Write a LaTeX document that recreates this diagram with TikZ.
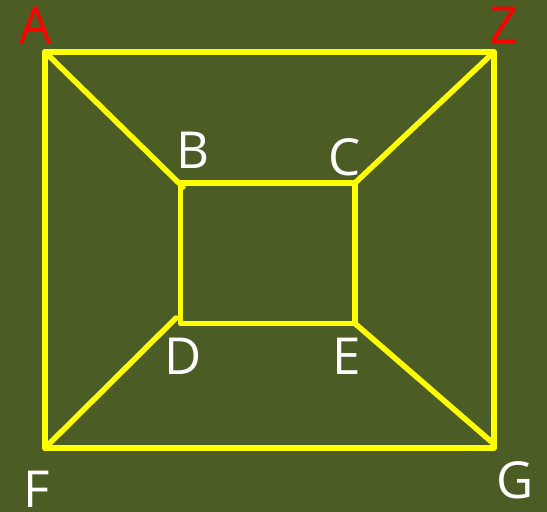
\documentclass[tikz,border=0pt]{standalone}
\usepackage{fontspec}
\setmainfont{Open Sans}
\definecolor{bg}{RGB}{75,93,37}
\definecolor{ylw}{RGB}{255,255,0}
\definecolor{lblred}{RGB}{255,0,0}
\begin{document}
\begin{tikzpicture}[x=1pt,y=-1pt,
  edge/.style={draw=ylw,line width=5.5pt,line cap=round,line join=round},
  lbl/.style={anchor=base,inner sep=0pt,font=\fontsize{51}{51}\selectfont,text=white},
  redlbl/.style={lbl,text=lblred}]
\fill[bg] (0,0) rectangle (547,512);
\useasboundingbox (0,0) rectangle (547,512);
% outer corners
\coordinate (A) at (45,52);
\coordinate (Z) at (494,52);
\coordinate (F) at (45,448);
\coordinate (G) at (494,448);
% inner corners
\coordinate (B) at (180.5,183);
\coordinate (C) at (355,183);
\coordinate (D) at (180.5,323.5);
\coordinate (E) at (355,323.5);
\coordinate (Bt) at (183,187);
\coordinate (Dt) at (176,318);
\coordinate (Gt) at (494,444);
% outer square
\draw[edge] (A) -- (Z) -- (G) -- (F) -- cycle;
% inner square
\draw[edge] (B) -- (C) -- (E) -- (D) -- cycle;
% diagonals
\draw[edge] (A) -- (Bt);
\draw[edge] (Z) -- (C);
\draw[edge] (F) -- (Dt);
\draw[edge] (E) -- (Gt);
% labels
\node[redlbl] (lA) at (35.5,43) {A};
\node[redlbl] (lZ) at (504,43) {Z};
\node[lbl] (lB) at (193,168) {B};
\node[lbl] (lC) at (345,175) {C};
\node[lbl] (lD) at (183,374) {D};
\node[lbl] (lE) at (347,374) {E};
\node[lbl] (lF) at (37,507) {F};
\node[lbl] (lG) at (515,498) {G};
\end{tikzpicture}
\end{document}
